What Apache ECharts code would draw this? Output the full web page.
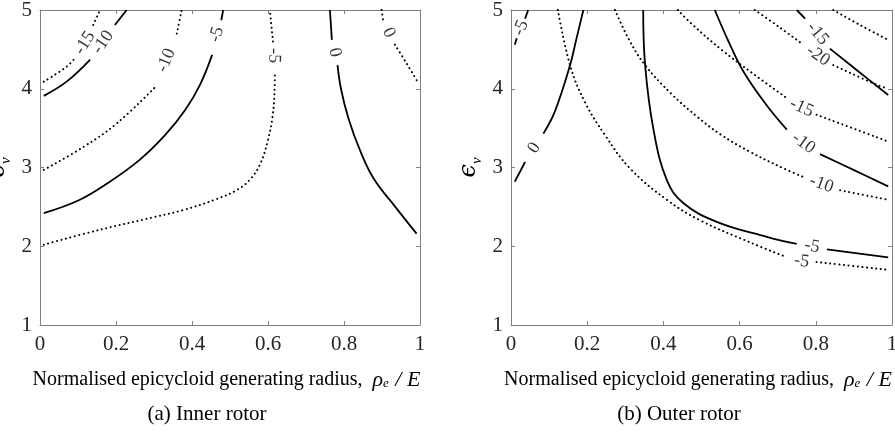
<!DOCTYPE html>
<html>
<head>
<meta charset="utf-8">
<script src="https://cdn.jsdelivr.net/npm/echarts@6/dist/echarts.min.js"></script>
<style>
  html, body { margin: 0; padding: 0; background: #fff; }
  #chart { width: 895px; height: 432px; }
</style>
</head>
<body>
<div id="chart"></div>
<script>
// contour lines, each one = list of segments (a segment ends where the inline label sits)
// (a) inner rotor
const innerSolidLevels = ['-10', '-5', '0'];
const innerSolid = [
  [[[0.01, 3.91], [0.07, 4.09], [0.132, 4.37]], [[0.197, 4.81], [0.228, 5.0]]],
  [[[0.01, 2.42], [0.105, 2.59], [0.184, 2.82], [0.263, 3.10], [0.329, 3.41], [0.382, 3.73], [0.421, 4.05], [0.453, 4.43]], [[0.477, 4.87], [0.482, 5.0]]],
  [[[0.763, 5.0], [0.768, 4.62]], [[0.783, 4.30], [0.792, 4.0], [0.812, 3.62], [0.842, 3.22], [0.878, 2.86], [0.935, 2.50], [0.991, 2.16]]]
];
const innerDottedLevels = ['-15', '-10', '-5', '0'];
const innerDotted = [
  [[[0.01, 4.09], [0.07, 4.28], [0.092, 4.39]], [[0.140, 4.81], [0.158, 5.0]]],
  [[[0.01, 2.97], [0.114, 3.26], [0.202, 3.56], [0.303, 4.02]], [[0.36, 4.70], [0.373, 5.0]]],
  [[[0.01, 2.02], [0.158, 2.21], [0.30, 2.37], [0.377, 2.46], [0.465, 2.60], [0.52, 2.72], [0.555, 2.86], [0.58, 3.05], [0.60, 3.35], [0.612, 3.65], [0.617, 3.95], [0.618, 4.22]], [[0.613, 4.60], [0.605, 5.0]]],
  [[[0.899, 5.0], [0.903, 4.87]], [[0.934, 4.56], [0.965, 4.32], [0.996, 4.07]]]
];
const innerLabels = [
  [0.118, 4.58, '-15'], [0.166, 4.59, '-10'], [0.332, 4.36, '-10'], [0.465, 4.69, '-5'],
  [0.616, 4.42, '-5'], [0.776, 4.46, '0'], [0.918, 4.71, '0']
];
const innerLabelRot = [58, 55, 68, 73, -92, -78, -64];

// (b) outer rotor
const outerSolidLevels = ['-5', '0', '-5', '-10', '-15'];
const outerSolid = [
  [[[0.01, 4.56], [0.015, 4.64]], [[0.037, 4.89], [0.045, 5.0]]],
  [[[0.01, 2.82], [0.037, 3.07]], [[0.085, 3.43], [0.115, 3.71], [0.155, 4.30], [0.172, 4.64], [0.190, 5.0]]],
  [[[0.347, 5.0], [0.352, 4.30], [0.374, 3.48], [0.409, 2.84], [0.452, 2.55], [0.540, 2.31], [0.671, 2.12], [0.750, 2.03]], [[0.829, 1.96], [0.99, 1.86]]],
  [[[0.535, 5.0], [0.571, 4.60], [0.610, 4.22], [0.671, 3.79], [0.724, 3.48]], [[0.811, 3.17], [0.899, 2.97], [0.99, 2.76]]],
  [[[0.750, 5.0], [0.772, 4.89]], [[0.837, 4.51], [0.912, 4.22], [0.99, 3.92]]]
];
const outerDottedLevels = ['-5', '-10', '-15', '-20', '-25'];
const outerDotted = [
  [[[0.123, 5.0], [0.155, 4.30], [0.194, 3.83], [0.247, 3.41], [0.312, 2.99], [0.409, 2.59], [0.496, 2.33], [0.627, 2.05], [0.724, 1.86]], [[0.802, 1.80], [0.99, 1.70]]],
  [[[0.273, 5.0], [0.308, 4.64], [0.352, 4.30], [0.422, 3.93], [0.49, 3.64], [0.55, 3.42], [0.627, 3.20], [0.715, 2.99], [0.767, 2.88]], [[0.864, 2.71], [0.99, 2.59]]],
  [[[0.438, 5.0], [0.475, 4.82], [0.554, 4.49], [0.633, 4.20], [0.724, 3.88]], [[0.802, 3.67], [0.99, 3.33]]],
  [[[0.640, 5.0], [0.702, 4.79], [0.767, 4.56]], [[0.846, 4.30], [0.96, 4.05], [0.99, 4.0]]],
  [[[0.846, 5.0], [0.916, 4.81], [0.99, 4.62]]]
];
const outerLabels = [
  [0.026, 4.77, '-5'], [0.061, 3.25, '0'], [0.763, 1.81, '-5'], [0.790, 2.00, '-5'], [0.815, 2.79, '-10'],
  [0.768, 3.31, '-10'], [0.763, 3.76, '-15'], [0.806, 4.42, '-20'], [0.805, 4.70, '-15']
];
const outerLabelRot = [67, 57, -8, -10, -20, -36, -24, -34, -50];

const xTicks = [0, 0.2, 0.4, 0.6, 0.8, 1];
const yTicks = [1, 2, 3, 4, 5];
const captions = ['(a) Inner rotor', '(b) Outer rotor'];

const serif = 'Liberation Serif';
const axisGray = '#808080';
const textCol = '#262626';

const chart = echarts.init(document.getElementById('chart'), null, { renderer: 'canvas' });

function xAxisFor(grid, top) {
  return {
    type: 'value', gridIndex: grid, position: top ? 'top' : 'bottom',
    min: xTicks[0], max: xTicks[xTicks.length - 1], interval: xTicks[1] - xTicks[0],
    axisLine: { onZero: false, lineStyle: { color: axisGray, width: 1 } },
    axisTick: { inside: true, length: 4, lineStyle: { color: axisGray } },
    axisLabel: {
      show: !top, color: textCol, fontFamily: serif, fontSize: 21, margin: 9,
      formatter: v => String(+v.toFixed(1))
    },
    splitLine: { show: false },
    name: top ? '' : '{t|Normalised epicycloid generating radius,  }{m|ρ}{s|e}{m| / E}',
    nameLocation: 'middle', nameGap: 44,
    nameTextStyle: {
      color: '#000',
      padding: [0, 7, 0, 0],
      rich: {
        t: { fontFamily: serif, fontSize: 20, color: '#000' },
        m: { fontFamily: serif, fontSize: 22, fontStyle: 'italic', color: '#000' },
        s: { fontFamily: serif, fontSize: 13, fontStyle: 'italic', color: '#000', padding: [7, 1, 0, 0] }
      }
    }
  };
}
function yAxisFor(grid, right) {
  return {
    type: 'value', gridIndex: grid, position: right ? 'right' : 'left',
    min: yTicks[0], max: yTicks[yTicks.length - 1], interval: 1,
    axisLine: { onZero: false, lineStyle: { color: axisGray, width: 1 } },
    axisTick: { inside: true, length: 4, lineStyle: { color: axisGray } },
    axisLabel: { show: !right, color: textCol, fontFamily: serif, fontSize: 21, margin: 8 },
    splitLine: { show: false },
    name: right ? '' : '{e|ϵ}{v|v}',
    nameLocation: 'middle', nameRotate: 90, nameGap: 26,
    nameTextStyle: {
      rich: {
        e: { fontFamily: 'DejaVu Serif', fontSize: 24, fontStyle: 'italic', color: '#000', padding: [0, 0, 4, 0] },
        v: { fontFamily: serif, fontSize: 15, fontStyle: 'italic', color: '#000', verticalAlign: 'bottom' }
      }
    }
  };
}

const series = [];
function addLines(lines, grid, dotted) {
  lines.forEach(segs => {
    segs.forEach(seg => {
      series.push({
        type: 'line', xAxisIndex: grid * 2, yAxisIndex: grid * 2,
        data: seg, smooth: 0.4, symbol: 'none', silent: true,
        lineStyle: dotted
          ? { color: '#000', width: 2, type: [0.1, 4.5], cap: 'round' }
          : { color: '#000', width: 1.8 }
      });
    });
  });
}
addLines(innerSolid, 0, false);
addLines(innerDotted, 0, true);
addLines(outerSolid, 1, false);
addLines(outerDotted, 1, true);

function addLabels(labels, rots, grid) {
  series.push({
    type: 'scatter', xAxisIndex: grid * 2, yAxisIndex: grid * 2,
    symbolSize: 0, silent: true,
    label: { show: true, position: 'inside', formatter: '{b}', fontFamily: serif, fontSize: 18, color: '#000' },
    data: labels.map((l, i) => ({ name: l[2], value: [l[0], l[1]], label: { rotate: rots[i] } }))
  });
}
addLabels(innerLabels, innerLabelRot, 0);
addLabels(outerLabels, outerLabelRot, 1);

const option = {
  animation: false,
  backgroundColor: '#fff',
  grid: [
    { left: 40, top: 10, width: 380, height: 315, containLabel: false, outerBoundsMode: 'none' },
    { left: 511, top: 10, width: 381, height: 315, containLabel: false, outerBoundsMode: 'none' }
  ],
  xAxis: [xAxisFor(0, false), xAxisFor(0, true), xAxisFor(1, false), xAxisFor(1, true)],
  yAxis: [yAxisFor(0, false), yAxisFor(0, true), yAxisFor(1, false), yAxisFor(1, true)],
  graphic: [
    { type: 'text', x: 207, y: 414, style: { text: captions[0], font: '21px "Liberation Serif"', fill: '#000', textAlign: 'center', textVerticalAlign: 'middle' } },
    { type: 'text', x: 679, y: 414, style: { text: captions[1], font: '21px "Liberation Serif"', fill: '#000', textAlign: 'center', textVerticalAlign: 'middle' } }
  ],
  series: series
};
chart.setOption(option);
</script>
</body>
</html>
